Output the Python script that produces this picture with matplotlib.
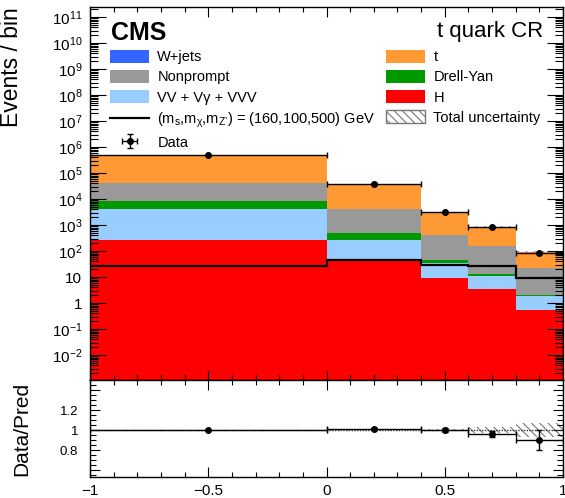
import numpy as np
import matplotlib
matplotlib.use('Agg')
import matplotlib.pyplot as plt
from matplotlib.ticker import LogLocator, FixedLocator, MultipleLocator, FuncFormatter, NullFormatter
from matplotlib.patches import Patch
from matplotlib.lines import Line2D

plt.rcParams['font.family'] = ['Liberation Sans', 'DejaVu Sans']
plt.rcParams['mathtext.fontset'] = 'custom'
plt.rcParams['mathtext.rm'] = 'Liberation Sans'
plt.rcParams['mathtext.it'] = 'Liberation Sans:italic'
plt.rcParams['mathtext.bf'] = 'Liberation Sans:bold'
plt.rcParams['hatch.linewidth'] = 0.8

# ---------------- data ----------------
bin_edges = [-1.0, 0.0, 0.4, 0.6, 0.8, 1.0]

h_vals = [257, 49, 9.1, 3.5, 0.55]
vv_vals = [3840, 223, 25.9, 7.8, 1.35]
wjets_vals = [3, 1, 0.3, 0.1, 0.02]
dy_vals = [4400, 218, 11, 2.2, 0.15]
nonprompt_vals = [32500, 3810, 380, 137, 20.5]
top_vals = [459000, 34700, 2770, 719, 73]

signal_vals = [27, 46, 29, 26, 9.3]
data_vals = [500000, 39400, 3200, 835, 86]
data_err = [707, 198, 57, 29, 9.3]
rel_unc = [0.005, 0.008, 0.012, 0.03, 0.07]

# stack order bottom -> top
stack_names = ['H', 'VV + Vγ + VVV', 'W+jets', 'Drell-Yan', 'Nonprompt', 't']
stack_vals = [h_vals, vv_vals, wjets_vals, dy_vals, nonprompt_vals, top_vals]
stack_colors = ['#ff0000', '#99ccff', '#3366ff', '#009900', '#999999', '#ff9933']
signal_label = "(m$_\\mathregular{s}$,m$_\\mathregular{χ}$,m$_\\mathregular{Z\u2019}$) = (160,100,500) GeV"

# ---------------- figure ----------------
W, H = 565, 498
fig = plt.figure(figsize=(W / 100, H / 100), dpi=100)
ax_l, ax_r = 90 / W, 563 / W
main_top, main_bot = 7, 380
rat_bot = 477
ax = fig.add_axes([ax_l, 1 - main_bot / H, ax_r - ax_l, (main_bot - main_top) / H])
axr = fig.add_axes([ax_l, 1 - rat_bot / H, ax_r - ax_l, (rat_bot - main_bot) / H])

edges = np.array(bin_edges)
centers = 0.5 * (edges[1:] + edges[:-1])
halfw = 0.5 * (edges[1:] - edges[:-1])

bottom = np.full(len(centers), 1e-6)
cum = np.zeros(len(centers))
for name, vals, col in zip(stack_names, stack_vals, stack_colors):
    cum = cum + np.array(vals, dtype=float)
    ax.stairs(cum, edges, baseline=bottom, fill=True, color=col, linewidth=0)
    bottom = cum.copy()
total = cum

# total uncertainty on stack
unc = total * np.array(rel_unc)
ax.stairs(total + unc, edges, baseline=total - unc, fill=True, facecolor='none',
          edgecolor='#888888', hatch='\\\\\\\\', linewidth=0)

# signal
ax.stairs(signal_vals, edges, baseline=None, color='black', linewidth=1.6)

# data
data_cont = ax.errorbar(centers, data_vals, xerr=halfw, yerr=data_err, fmt='o', color='black',
                        ms=4, elinewidth=1.0, capsize=2, capthick=1.0)

ax.set_yscale('log')
ax.set_xlim(-1, 1)
ax.set_ylim(10 ** (-2.96), 10 ** 11.385)


def log_fmt(v, pos):
    k = int(round(np.log10(v)))
    if k == 0:
        return '1'
    if k == 1:
        return '10'
    return '$10^{%d}$' % k


ax.yaxis.set_major_locator(LogLocator(base=10, numticks=40))
ax.yaxis.set_minor_locator(LogLocator(base=10, subs=np.arange(2, 10), numticks=40))
ax.yaxis.set_major_formatter(FuncFormatter(log_fmt))
ax.yaxis.set_minor_formatter(NullFormatter())
ax.xaxis.set_major_locator(MultipleLocator(0.5))
ax.xaxis.set_minor_locator(MultipleLocator(0.1))
ax.tick_params(axis='both', which='both', direction='in', top=True, right=True, labelbottom=False)
ax.tick_params(axis='y', which='major', length=11.5, width=0.8, labelsize=11, pad=5.5)
ax.tick_params(axis='y', which='minor', length=6, width=0.8)
ax.tick_params(axis='x', which='major', length=7, width=0.8)
ax.tick_params(axis='x', which='minor', length=3.5, width=0.8)
for s in ax.spines.values():
    s.set_linewidth(1.0)

ax.set_ylabel('Events / bin', fontsize=16.5, loc='top')
ax.yaxis.set_label_coords(-0.142, 1.0)

# ---------------- ratio ----------------
ratio = np.array(data_vals) / total
ratio_err = np.array(data_err) / total
axr.stairs(1 + np.array(rel_unc), edges, baseline=1 - np.array(rel_unc), fill=True,
           facecolor='none', edgecolor='#777777', hatch='\\\\\\\\', linewidth=0)
axr.axhline(1.0, color='#333333', linewidth=1.0, linestyle=(0, (1, 1)))
axr.errorbar(centers, ratio, xerr=halfw, yerr=ratio_err, fmt='o', color='black',
             ms=4, elinewidth=1.0, capsize=2, capthick=1.0)
axr.set_xlim(-1, 1)
axr.set_ylim(0.53, 1.5)
axr.yaxis.set_major_locator(FixedLocator([0.6, 0.8, 1.0, 1.2, 1.4]))
axr.yaxis.set_minor_locator(MultipleLocator(0.05))


def ratio_fmt(v, pos):
    if abs(v - 0.8) < 1e-6:
        return '0.8'
    if abs(v - 1.0) < 1e-6:
        return '1'
    if abs(v - 1.2) < 1e-6:
        return '1.2'
    return ''


def x_fmt(v, pos):
    s = '%g' % v
    return s.replace('-', '\u2212')


axr.yaxis.set_major_formatter(FuncFormatter(ratio_fmt))
axr.xaxis.set_major_locator(MultipleLocator(0.5))
axr.xaxis.set_minor_locator(MultipleLocator(0.1))
axr.xaxis.set_major_formatter(FuncFormatter(x_fmt))
axr.tick_params(axis='both', which='both', direction='in', top=True, right=True)
axr.tick_params(axis='y', which='major', length=7, width=0.8, labelsize=9.5, pad=8.5)
axr.tick_params(axis='y', which='minor', length=4, width=0.8)
axr.tick_params(axis='x', which='major', length=7, width=0.8, labelsize=11, pad=5)
axr.tick_params(axis='x', which='minor', length=3.5, width=0.8)
for s in axr.spines.values():
    s.set_linewidth(1.0)
axr.set_ylabel('Data/Pred', fontsize=15)
axr.yaxis.set_label_coords(-0.125, 0.5)

# ---------------- legends ----------------
col = dict(zip(stack_names, stack_colors))
left_handles = [Patch(facecolor=col['W+jets'], edgecolor='none'),
                Patch(facecolor=col['Nonprompt'], edgecolor='none'),
                Patch(facecolor=col['VV + Vγ + VVV'], edgecolor='none'),
                Line2D([], [], color='black', linewidth=1.6),
                data_cont]
left_labels = ['W+jets', 'Nonprompt', 'VV + Vγ + VVV', signal_label, 'Data']
right_handles = [Patch(facecolor=col['t'], edgecolor='none'),
                 Patch(facecolor=col['Drell-Yan'], edgecolor='none'),
                 Patch(facecolor=col['H'], edgecolor='none'),
                 Patch(facecolor='white', edgecolor='#777777', hatch='\\\\\\\\', linewidth=1.0)]
right_labels = ['t', 'Drell-Yan', 'H', 'Total uncertainty']

leg_kw = dict(loc='upper left', frameon=False, fontsize=10.5, borderpad=0, borderaxespad=0,
              handlelength=2.7, handleheight=0.95, handletextpad=0.55, labelspacing=0.4,
              bbox_transform=fig.transFigure)
leg1 = ax.legend(left_handles, left_labels, bbox_to_anchor=(110 / W, 1 - 50 / H), **leg_kw)
ax.add_artist(leg1)
leg2 = ax.legend(right_handles, right_labels, bbox_to_anchor=(386 / W, 1 - 50 / H), **leg_kw)

fig.text(111 / W, 1 - 40 / H, 'CMS', fontsize=18, fontweight='bold', ha='left', va='baseline')
fig.text(543 / W, 1 - 37.3 / H, 't quark CR', fontsize=16, ha='right', va='baseline')

fig.savefig('out.png', dpi=100)
